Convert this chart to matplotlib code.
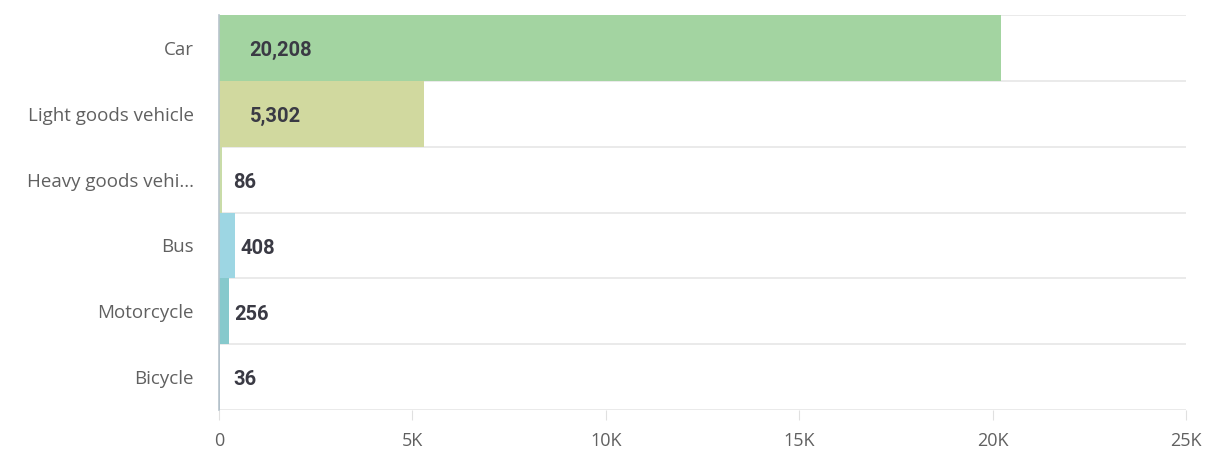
import matplotlib.pyplot as plt
import matplotlib.transforms as mtransforms
from matplotlib.ticker import FuncFormatter

categories = ["Car", "Light goods vehicle", "Heavy goods vehi...", "Bus", "Motorcycle", "Bicycle"]
values = [20208, 5302, 86, 408, 256, 36]
colors = ["#a3d4a1", "#d1d99f", "#c9dca8", "#9dd6e3", "#86c9cc", "#9fb4c4"]
xticks = [0, 5000, 10000, 15000, 20000, 25000]

fig = plt.figure(figsize=(12.05, 4.5), dpi=100)
ax = fig.add_axes([219 / 1205, 1 - 410 / 450, (1186 - 219) / 1205, (410 - 15) / 450])

ypos = list(range(len(categories)))
ax.barh(ypos, values, height=1.0, color=colors, edgecolor="none", zorder=2)
ax.set_ylim(len(categories) - 0.5, -0.5)
ax.set_xlim(0, 25000)

# gridlines between rows
for b in range(len(categories) + 1):
    ax.axhline(b - 0.5, color="#e6e6e6", lw=1.2, zorder=1)

ax.set_yticks(ypos)
ax.set_yticklabels(categories, fontfamily="Open Sans", fontsize=13.5, color="#606060")
ax.set_xticks(xticks)
ax.xaxis.set_major_formatter(FuncFormatter(lambda v, p: "0" if v == 0 else "%dK" % (v / 1000)))
for lab in ax.get_xticklabels():
    lab.set_fontfamily("Open Sans")
    lab.set_fontsize(13)
    lab.set_color("#606060")

# category labels sit a little above the row centre
shift = mtransforms.ScaledTranslation(0, 3 / 100, fig.dpi_scale_trans)
for lab in ax.get_yticklabels():
    lab.set_transform(lab.get_transform() + shift)

ax.tick_params(axis="y", length=0, pad=18)
ax.tick_params(axis="x", length=7, color="#e0e0e0", pad=9)
for s in ["top", "right", "bottom"]:
    ax.spines[s].set_visible(False)
ax.spines["left"].set_color("#b8c4cc")
ax.spines["left"].set_linewidth(1.2)

px_per_unit = (1186 - 219) / 25000 * 72 / 100
for i, v in enumerate(values):
    if v > 1000:
        off = 22
    else:
        off = max(v * px_per_unit + 4, 10)
    ax.annotate("{:,}".format(v), xy=(0, i), xytext=(off, -2), textcoords="offset points",
                ha="left", va="center", fontfamily="Roboto", fontweight="semibold",
                fontsize=14.5, color="#3a3a44", zorder=3)

fig.savefig("out.png", dpi=100)
